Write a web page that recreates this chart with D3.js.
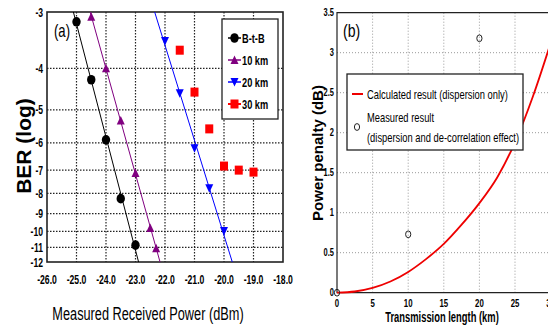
<!DOCTYPE html>
<html>
<head>
<meta charset="utf-8">
<script src="https://cdn.jsdelivr.net/npm/d3@7"></script>
<style>
  html, body { margin: 0; padding: 0; background: #fff; }
  svg { display: block; }
</style>
</head>
<body>
<svg id="chart" width="548" height="328"></svg>
<script>
/* ---- data: panel (a) BER curves -------------------------------- */
const powerTicks = [-26, -25, -24, -23, -22, -21, -20, -19, -18];
const berTicks   = [-3, -4, -5, -6, -7, -8, -9, -10, -11, -12];

const powerBtB = [-25.0, -24.5, -24.0, -23.5, -23.0];
const berBtB   = [-3.15, -4.25, -5.9, -8.25, -10.85];
const power10  = [-24.5, -24.0, -23.5, -23.0, -22.5, -22.3];
const ber10    = [-3.07, -4.0, -5.3, -7.12, -9.8, -11.05];
const power20  = [-22.0, -21.5, -21.0, -20.5, -20.0];
const ber20    = [-3.47, -4.57, -6.18, -7.77, -9.97];
const power30  = [-21.5, -21.0, -20.5, -20.0, -19.5, -19.0];
const ber30    = [-3.64, -4.54, -5.55, -6.84, -7.0, -7.08];

const seriesNames = ["B-t-B", "10 km", "20 km", "30 km"];

/* ---- data: panel (b) power penalty ------------------------------ */
const kmTicks  = [0, 5, 10, 15, 20, 25, 30];
const penTicks = [0, 0.5, 1, 1.5, 2, 2.5, 3, 3.5];

const calcKm   = [0, 2.5, 5, 7.5, 10, 12.5, 15, 17.5, 20, 22.5, 25, 27.5, 30];
const calcPen  = [0, 0.015, 0.06, 0.14, 0.26, 0.42, 0.61, 0.85, 1.12, 1.44, 1.88, 2.45, 3.12];
const measKm   = [0, 10, 20];
const measPen  = [0, 0.73, 3.18];

/* ---- helpers ---------------------------------------------------- */
// the picture's lettering is strongly condensed: Arial metrics squeezed horizontally
const FONT = "'Liberation Sans', Arial, sans-serif";

// Numerical Recipes erfc, good relative accuracy far in the tail
function erfc(x) {
  const z = Math.abs(x), t = 1 / (1 + 0.5 * z);
  const r = t * Math.exp(-z * z - 1.26551223 + t * (1.00002368 + t * (0.37409196 +
    t * (0.09678418 + t * (-0.18628806 + t * (0.27886807 + t * (-1.13520398 +
    t * (1.48851587 + t * (-0.82215223 + t * 0.17087277)))))))));
  return x >= 0 ? r : 2 - r;
}
// Q factor for BER = 10^e  (BER = 0.5 erfc(Q/sqrt2))
function berQ(e) {
  const target = Math.pow(10, e);
  let lo = 0, hi = 12;
  for (let i = 0; i < 60; i++) {
    const mid = (lo + hi) / 2;
    if (0.5 * erfc(mid / Math.SQRT2) > target) lo = mid; else hi = mid;
  }
  return (lo + hi) / 2;
}

function label(g, x, y, str, o = {}) {
  const rot = o.rotate ? ` rotate(${o.rotate})` : "";
  return g.append("text")
    .attr("transform", `translate(${x},${y})${rot} scale(${o.k ?? 1},1)`)
    .attr("text-anchor", o.anchor ?? "start")
    .attr("fill", o.fill ?? "#000")
    .style("font-family", FONT)
    .style("font-size", (o.size ?? 12) + "px")
    .style("font-weight", o.weight ?? "normal")
    .text(str);
}

const svg = d3.select("#chart");

/* =================================================================
 *  Panel (a)
 * ================================================================= */
const A = { left: 47, right: 283, top: 12, bottom: 262 };
const xA = d3.scaleLinear([-26, -18], [A.left, A.right]);
const qA = d3.scaleLog([berQ(-3), berQ(-12)], [A.top, A.bottom]);
const yA = e => qA(berQ(e));

const gA = svg.append("g");
gA.append("clipPath").attr("id", "clipA")
  .append("rect")
  .attr("x", A.left).attr("y", A.top)
  .attr("width", A.right - A.left).attr("height", A.bottom - A.top);

// grid
gA.append("g").selectAll("line")
  .data(powerTicks.slice(1, -1)).join("line")
  .attr("x1", d => xA(d)).attr("x2", d => xA(d))
  .attr("y1", A.top).attr("y2", A.bottom)
  .attr("stroke", "#222").attr("stroke-width", 1.2).attr("stroke-dasharray", "1.5,1.5");
gA.append("g").selectAll("line")
  .data(berTicks.slice(1, -1)).join("line")
  .attr("x1", A.left).attr("x2", A.right)
  .attr("y1", d => yA(d)).attr("y2", d => yA(d))
  .attr("stroke", "#222").attr("stroke-width", 1.2).attr("stroke-dasharray", "1.5,1.5");

// tick labels
powerTicks.forEach(d => label(gA, xA(d), 284, d.toFixed(1), { anchor: "middle", size: 13.5, weight: "bold", k: 0.64 }));
berTicks.forEach(d => label(gA, 43, yA(d) + 4.5, String(d), { anchor: "end", size: 13, weight: "bold", k: 0.66 }));

// frame
gA.append("rect")
  .attr("x", A.left).attr("y", A.top)
  .attr("width", A.right - A.left).attr("height", A.bottom - A.top)
  .attr("fill", "none").attr("stroke", "#222").attr("stroke-width", 1.6);

// series
const seriesA = [
  { name: seriesNames[0], xs: powerBtB, ys: berBtB, colour: "#000000", sym: "circle" },
  { name: seriesNames[1], xs: power10,  ys: ber10,  colour: "#800080", sym: "up" },
  { name: seriesNames[2], xs: power20,  ys: ber20,  colour: "#0000ff", sym: "down" },
  { name: seriesNames[3], xs: power30,  ys: ber30,  colour: "#ff0000", sym: "square", noFit: true }
];

function marker(g, s, cx, cy) {
  if (s.sym === "square") {
    g.append("rect").attr("x", cx - 4).attr("y", cy - 4.5)
      .attr("width", 8).attr("height", 9).attr("fill", s.colour);
  } else if (s.sym === "down") {
    g.append("path").attr("d", "M-4,-4L4,-4L0,4.5Z")
      .attr("transform", `translate(${cx},${cy})`).attr("fill", s.colour);
  } else if (s.sym === "up") {
    g.append("path").attr("d", "M-4,4L4,4L0,-4.5Z")
      .attr("transform", `translate(${cx},${cy})`).attr("fill", s.colour);
  } else {
    g.append("ellipse").attr("cx", cx).attr("cy", cy)
      .attr("rx", 4.2).attr("ry", 4.8).attr("fill", s.colour);
  }
}

const plotA = gA.append("g").attr("clip-path", "url(#clipA)");
seriesA.forEach(s => {
  if (!s.noFit) {
    // least squares fit of log(Q) against power, extended to the frame
    const u = s.ys.map(e => Math.log10(berQ(e)));
    const mx = d3.mean(s.xs), mu = d3.mean(u);
    const m = d3.sum(s.xs, (x, i) => (x - mx) * (u[i] - mu)) / d3.sum(s.xs, x => (x - mx) ** 2);
    const ends = [-2.9, -12.3].map(e => {
      const uu = Math.log10(berQ(e));
      return [mx + (uu - mu) / m, e];
    });
    plotA.append("path")
      .attr("d", d3.line().x(d => xA(d[0])).y(d => yA(d[1]))(ends))
      .attr("fill", "none").attr("stroke", s.colour).attr("stroke-width", 1);
  }
  s.xs.forEach((x, i) => marker(plotA, s, xA(x), yA(s.ys[i])));
});

// legend (a)
const legA = gA.append("g");
legA.append("rect").attr("x", 222).attr("y", 19).attr("width", 56).attr("height", 100)
  .attr("fill", "#fff").attr("stroke", "#222").attr("stroke-width", 1.3);
seriesA.forEach((s, i) => {
  const ly = 38 + i * 22;
  legA.append("line").attr("x1", 228).attr("x2", 241).attr("y1", ly).attr("y2", ly)
    .attr("stroke", s.colour).attr("stroke-width", s.noFit ? 2 : 1.5);
  marker(legA, s, 234.5, ly);
  label(legA, 242, ly + 4.5, s.name, { size: 12.5, weight: "bold", k: 0.74 });
});

label(gA, 54, 37, "(a)", { size: 17.5, k: 0.75 });
label(gA, 31, 146, "BER (log)", { anchor: "middle", size: 21, weight: "bold", rotate: -90 });
label(gA, 148, 320, "Measured Received Power (dBm)", { anchor: "middle", size: 18.5, k: 0.69 });

/* =================================================================
 *  Panel (b)
 * ================================================================= */
const B = { left: 337, right: 550.6, top: 12.7, bottom: 292.7 };
const xB = d3.scaleLinear([0, 30], [B.left, B.right]);
const yB = d3.scaleLinear([0, 3.5], [B.bottom, B.top]);

const gB = svg.append("g");

gB.append("g").selectAll("line")
  .data(kmTicks.slice(1)).join("line")
  .attr("x1", d => xB(d)).attr("x2", d => xB(d))
  .attr("y1", B.top).attr("y2", B.bottom)
  .attr("stroke", "#999").attr("stroke-width", 1).attr("stroke-dasharray", "1,2");
gB.append("g").selectAll("line")
  .data(penTicks.slice(1, -1)).join("line")
  .attr("x1", B.left).attr("x2", B.right)
  .attr("y1", d => yB(d)).attr("y2", d => yB(d))
  .attr("stroke", "#999").attr("stroke-width", 1).attr("stroke-dasharray", "1,2");

gB.append("path")
  .attr("d", `M${B.right},${B.top}H${B.left}V${B.bottom}H${B.right}`)
  .attr("fill", "none").attr("stroke", "#222").attr("stroke-width", 1.2);

kmTicks.forEach(d => label(gB, xB(d), 307, String(d), { anchor: "middle", size: 11.5, weight: "bold", k: 0.68 }));
penTicks.forEach(d => label(gB, 334, yB(d) + 3.5, String(d), { anchor: "end", size: 11, weight: "bold", k: 0.68 }));

gB.append("path")
  .datum(calcKm.map((k, i) => [k, calcPen[i]]))
  .attr("d", d3.line().x(d => xB(d[0])).y(d => yB(d[1])).curve(d3.curveMonotoneX))
  .attr("fill", "none").attr("stroke", "#ee0000").attr("stroke-width", 1.8);

gB.append("g").selectAll("ellipse")
  .data(measKm).join("ellipse")
  .attr("cx", d => xB(d)).attr("cy", (d, i) => yB(measPen[i]))
  .attr("rx", 2.6).attr("ry", 3.4)
  .attr("fill", "none").attr("stroke", "#222").attr("stroke-width", 1);

// legend (b)
const legB = gB.append("g");
legB.append("rect").attr("x", 347).attr("y", 74).attr("width", 176).attr("height", 76)
  .attr("fill", "#fff").attr("stroke", "#222").attr("stroke-width", 1.3);
legB.append("line").attr("x1", 352).attr("x2", 363).attr("y1", 94).attr("y2", 94)
  .attr("stroke", "#ee0000").attr("stroke-width", 2);
legB.append("ellipse").attr("cx", 357).attr("cy", 127).attr("rx", 2.6).attr("ry", 3.4)
  .attr("fill", "none").attr("stroke", "#222").attr("stroke-width", 1);
label(legB, 367, 98.5, "Calculated result (dispersion only)", { size: 13, k: 0.72 });
label(legB, 367, 121.5, "Measured result", { size: 13, k: 0.72 });
label(legB, 367, 141.5, "(dispersion and de-correlation effect)", { size: 13, k: 0.72 });

label(gB, 343, 37, "(b)", { size: 18, k: 0.78 });
label(gB, 323, 153, "Power penalty (dB)", { anchor: "middle", size: 15, weight: "bold", rotate: -90 });
label(gB, 442, 322, "Transmission length (km)", { anchor: "middle", size: 14, weight: "bold", k: 0.67 });
</script>
</body>
</html>
